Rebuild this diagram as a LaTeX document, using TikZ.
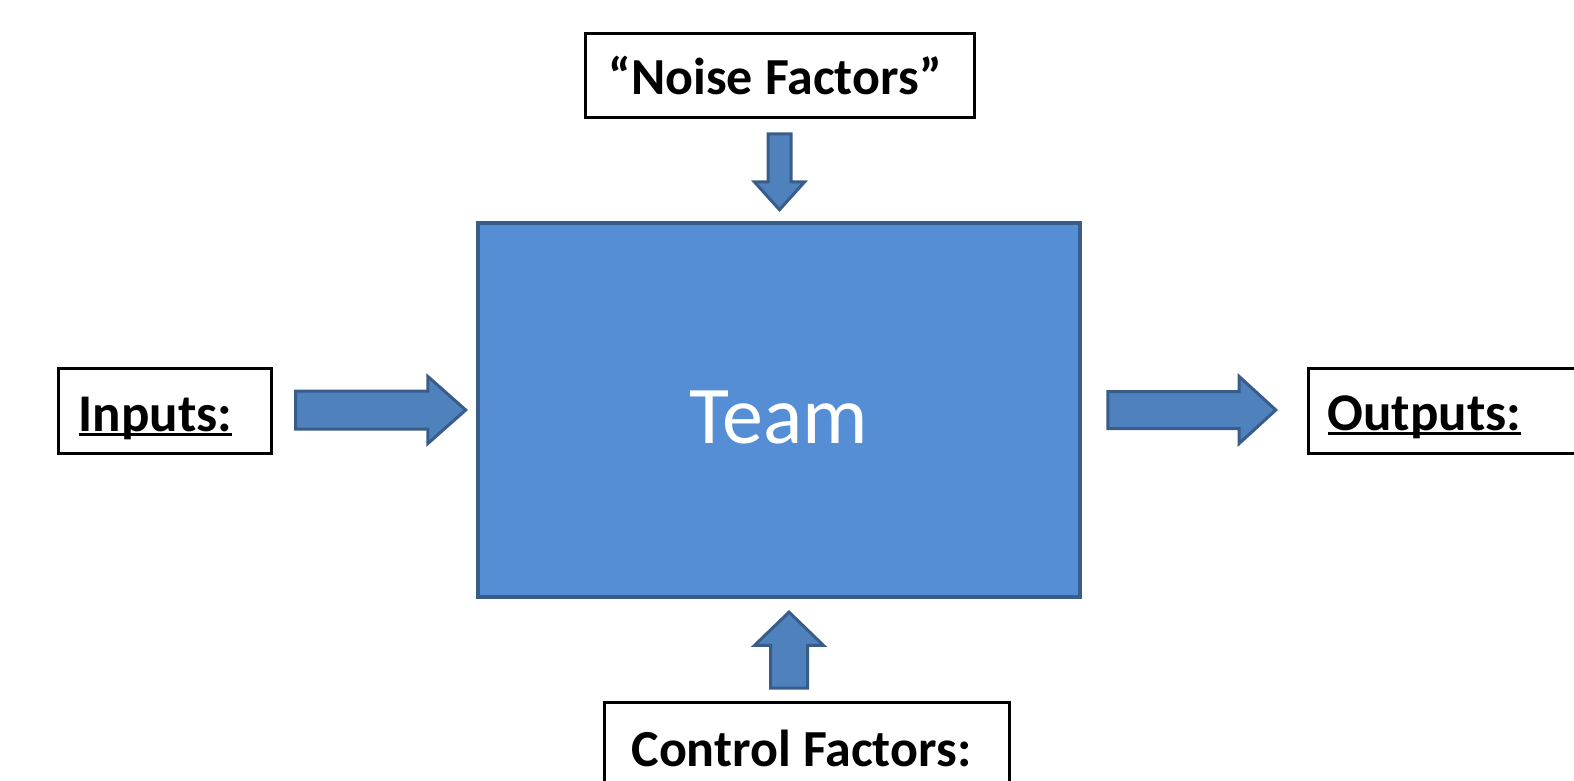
\documentclass[tikz,border=0pt]{standalone}
\usepackage{fontspec}
\setmainfont{Carlito}
\usetikzlibrary{shapes.arrows}
\definecolor{teamfill}{RGB}{85,142,213}
\definecolor{teamedge}{RGB}{56,93,138}
\definecolor{arrfill}{RGB}{79,129,189}
\definecolor{arredge}{RGB}{56,93,138}
\newcommand{\myul}[1]{\setbox0\hbox{#1}\rlap{\rule[-4.5pt]{\wd0}{3pt}}\box0}
\newcommand{\lblfont}{\fontsize{52}{60}\selectfont\bfseries}
\newcommand{\tightsp}{\spaceskip=12pt\relax}
\tikzset{
  labelbox/.style={draw=black, line width=3pt, fill=white, anchor=north west,
    inner ysep=0pt, align=left, font=\lblfont},
  teambox/.style={draw=teamedge, fill=teamfill, line width=4pt, inner sep=0pt,
    text=white, font=\fontsize{82}{90}\selectfont},
  fatarrow/.style={single arrow, draw=arredge, fill=arrfill, line width=3pt,
    inner xsep=0pt, anchor=tip, minimum width=1pt}
}
\begin{document}
\begin{tikzpicture}[x=1pt,y=-1pt]
\useasboundingbox (0,0) rectangle (1574,780);
% central box
\node[teambox, minimum width=602pt, minimum height=374pt, text height=66pt, text depth=0pt]
  (team) at (779,410) {Team};
% label boxes
\node[labelbox, inner xsep=23pt, text width=343pt, text height=61pt, text depth=23pt]
  (noise) at (584,32) {\tightsp “Noise Factors”};
\node[labelbox, inner xsep=20pt, text width=173pt, text height=63pt, text depth=22pt,
  font=\fontsize{53}{60}\selectfont\bfseries]
  (inp) at (57,367) {\myul{Inputs:}};
\node[labelbox, inner xsep=19pt, text width=305pt, text height=62pt, text depth=23pt,
  font=\fontsize{53}{60}\selectfont\bfseries]
  (outp) at (1307,367) {\myul{Outputs:}};
\node[labelbox, inner xsep=27pt, text width=351pt, text height=64pt, text depth=65pt]
  (ctrl) at (603,701) {\tightsp Control Factors:};
% fat arrows
\node[fatarrow, minimum height=170pt, inner ysep=17.5pt, single arrow head extend=14.5pt,
  single arrow tip angle=83] (ain) at (468,410) {};
\node[fatarrow, minimum height=168pt, inner ysep=17pt, single arrow head extend=15pt,
  single arrow tip angle=85] (aout) at (1278,410) {};
\node[fatarrow, rotate=-90, minimum height=76pt, inner ysep=10pt, single arrow head extend=13.5pt,
  single arrow tip angle=84] (anoise) at (779.5,212) {};
\node[fatarrow, rotate=90, minimum height=76pt, inner ysep=17pt, single arrow head extend=16pt,
  single arrow tip angle=92] (actrl) at (789,610) {};
\end{tikzpicture}
\end{document}
